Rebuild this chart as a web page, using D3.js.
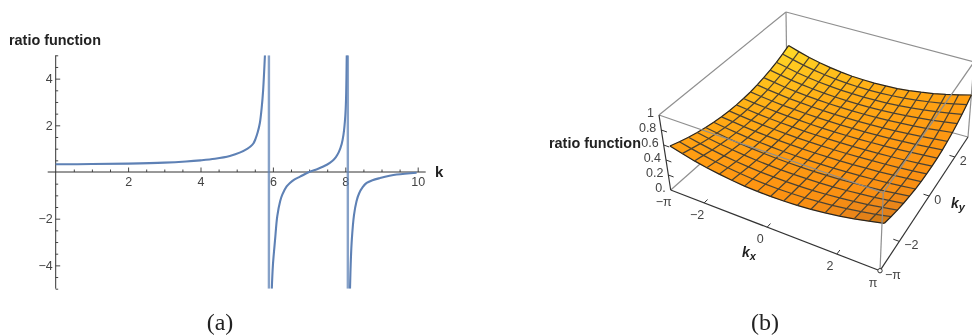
<!DOCTYPE html>
<html>
<head>
<meta charset="utf-8">
<script src="https://cdn.jsdelivr.net/npm/d3@7"></script>
<style>
  html, body { margin: 0; padding: 0; background: #fff; }
  svg { display: block; filter: blur(0.35px); }
  text { font-family: "Liberation Sans", sans-serif; }
  .tick text { font-size: 12.5px; fill: #444; }
</style>
</head>
<body>
<svg id="chart" width="972" height="336"></svg>
<script>
// panel (a): the curve, one list per branch
var branch1K = [0, 1, 2, 3, 3.6, 4, 4.4, 4.81, 5.1, 5.3, 5.38, 5.46, 5.52, 5.58, 5.64, 5.69, 5.73, 5.78];
var branch1V = [0.33, 0.34, 0.36, 0.4, 0.45, 0.5, 0.57, 0.69, 0.84, 1.0, 1.09, 1.22, 1.42, 1.7, 2.1, 2.75, 3.5, 5];
var branch2K = [5.97, 6.0, 6.06, 6.12, 6.2, 6.26, 6.38, 6.47, 6.6, 6.75, 7.0, 7.25, 7.49, 7.64, 7.74, 7.82, 7.9, 7.95, 8.0, 8.02, 8.04];
var branch2V = [-5, -4.0, -2.9, -1.9, -1.25, -0.97, -0.62, -0.47, -0.32, -0.2, 0, 0.14, 0.31, 0.47, 0.64, 0.85, 1.2, 1.6, 2.4, 3.1, 5];
var branch3K = [8.13, 8.15, 8.18, 8.24, 8.31, 8.38, 8.48, 8.59, 8.75, 8.96, 9.42, 9.97];
var branch3V = [-5, -3.9, -2.9, -1.85, -1.25, -0.92, -0.65, -0.47, -0.35, -0.26, -0.11, -0.03];
var asymptotes = [5.89, 8.07];
var xMajor = [2, 4, 6, 8, 10];
var xMinor = [0.5, 1, 1.5, 2.5, 3, 3.5, 4.5, 5, 5.5, 6.5, 7, 7.5, 8.5, 9, 9.5];
var yMajor = [-4, -2, 2, 4];
var yMinor = [-5, -4.5, -3.5, -3, -2.5, -1.5, -1, -0.5, 0.5, 1, 1.5, 2.5, 3, 3.5, 4.5, 5];

// panel (b): surface height at the 17 x 17 mesh crossings, rows along ky
var surface = [
  [.560,.516,.476,.444,.418,.397,.381,.374,.370,.374,.381,.397,.418,.444,.476,.516,.560],
  [.516,.479,.445,.417,.395,.377,.364,.357,.354,.357,.364,.377,.395,.417,.445,.479,.516],
  [.476,.445,.416,.392,.373,.358,.347,.342,.339,.342,.347,.358,.373,.392,.416,.445,.476],
  [.444,.417,.392,.373,.356,.343,.334,.329,.327,.329,.334,.343,.356,.373,.392,.417,.444],
  [.418,.395,.373,.356,.343,.332,.324,.320,.318,.320,.324,.332,.343,.356,.373,.395,.418],
  [.397,.377,.358,.343,.332,.322,.315,.312,.310,.312,.315,.322,.332,.343,.358,.377,.397],
  [.381,.364,.347,.334,.324,.315,.309,.306,.304,.306,.309,.315,.324,.334,.347,.364,.381],
  [.374,.357,.342,.329,.320,.312,.306,.303,.301,.303,.306,.312,.320,.329,.342,.357,.374],
  [.370,.354,.339,.327,.318,.310,.304,.301,.300,.301,.304,.310,.318,.327,.339,.354,.370],
  [.374,.357,.342,.329,.320,.312,.306,.303,.301,.303,.306,.312,.320,.329,.342,.357,.374],
  [.381,.364,.347,.334,.324,.315,.309,.306,.304,.306,.309,.315,.324,.334,.347,.364,.381],
  [.397,.377,.358,.343,.332,.322,.315,.312,.310,.312,.315,.322,.332,.343,.358,.377,.397],
  [.418,.395,.373,.356,.343,.332,.324,.320,.318,.320,.324,.332,.343,.356,.373,.395,.418],
  [.444,.417,.392,.373,.356,.343,.334,.329,.327,.329,.334,.343,.356,.373,.392,.417,.444],
  [.476,.445,.416,.392,.373,.358,.347,.342,.339,.342,.347,.358,.373,.392,.416,.445,.476],
  [.516,.479,.445,.417,.395,.377,.364,.357,.354,.357,.364,.377,.395,.417,.445,.479,.516],
  [.560,.516,.476,.444,.418,.397,.381,.374,.370,.374,.381,.397,.418,.444,.476,.516,.560]
];
var zTicks = [0, 0.2, 0.4, 0.6, 0.8, 1];
var zLabels = ["0.", "0.2", "0.4", "0.6", "0.8", "1"];
var kxTicks = [-Math.PI, -2, 0, 2, Math.PI];
var kxLabels = ["\u2212\u03c0", "\u22122", "0", "2", "\u03c0"];
var kyTicks = [-Math.PI, -2, 0, 2];
var kyLabels = ["\u2212\u03c0", "\u22122", "0", "2"];

var svg = d3.select("#chart");

// ---- panel (a)
var x = d3.scaleLinear().domain([0, 10]).range([55.7, 417.7]);
var y = d3.scaleLinear().domain([-5, 5]).range([288.7, 55.3]);

var left = svg.append("g");
left.append("clipPath").attr("id", "plotClip").append("rect")
  .attr("x", 50).attr("y", y(5)).attr("width", 380).attr("height", y(-5) - y(5));

function ticksX(values, size, labels) {
  var ax = d3.axisBottom(x).tickValues(values).tickSize(-size).tickPadding(size + 1);
  if (!labels) ax.tickFormat("");
  var g = left.append("g").attr("transform", "translate(0," + y(0) + ")").call(ax);
  g.select(".domain").remove();
  g.selectAll("line").attr("stroke", "#333").attr("stroke-width", 0.9);
  return g;
}
function ticksY(values, size, labels) {
  var ax = d3.axisLeft(y).tickValues(values).tickSize(-size).tickPadding(3);
  if (labels) ax.tickFormat(d3.format("d")); else ax.tickFormat("");
  var g = left.append("g").attr("transform", "translate(" + x(0) + ",0)").call(ax);
  g.select(".domain").remove();
  g.selectAll("line").attr("stroke", "#333").attr("stroke-width", 0.9);
  return g;
}
ticksX(xMinor, 2.5, false);
ticksX(xMajor, 4.5, true);
ticksY(yMinor, 2.5, false);
ticksY(yMajor, 4.5, true);

left.append("line").attr("x1", 47.7).attr("x2", 425.7).attr("y1", y(0)).attr("y2", y(0))
  .attr("stroke", "#333").attr("stroke-width", 1);
left.append("line").attr("x1", x(0)).attr("x2", x(0)).attr("y1", y(5)).attr("y2", y(-5))
  .attr("stroke", "#333").attr("stroke-width", 1);

var curve = d3.line().x(function(d) { return x(d[0]); }).y(function(d) { return y(d[1]); })
  .curve(d3.curveCatmullRom.alpha(0.5));
var plot = left.append("g").attr("clip-path", "url(#plotClip)");
plot.selectAll(".asym").data(asymptotes).enter().append("line")
  .attr("class", "asym")
  .attr("x1", function(d) { return x(d); }).attr("x2", function(d) { return x(d); })
  .attr("y1", y(5)).attr("y2", y(-5))
  .attr("stroke", "#5E81B5").attr("stroke-opacity", 0.75).attr("stroke-width", 2.4);
[[branch1K, branch1V], [branch2K, branch2V], [branch3K, branch3V]].forEach(function(b) {
  plot.append("path").datum(d3.zip(b[0], b[1]))
    .attr("d", curve).attr("fill", "none")
    .attr("stroke", "#5E81B5").attr("stroke-width", 2.1);
});

svg.append("text").attr("x", 9).attr("y", 45).attr("font-weight", "bold")
  .attr("font-size", 14.4).attr("fill", "#222").text("ratio function");
svg.append("text").attr("x", 435).attr("y", 177).attr("font-weight", "bold")
  .attr("font-size", 15).attr("fill", "#222").text("k");
svg.append("text").attr("x", 220).attr("y", 330).attr("text-anchor", "middle")
  .style("font-family", "'Liberation Serif', serif").attr("font-size", 24).attr("fill", "#222").text("(a)");

// ---- panel (b)
var kScale = d3.scaleLinear().domain([-Math.PI, Math.PI]).range([0, 1]);
var zScale = d3.scaleLinear().domain([0, 1]).range([0, 1]);

// maps the unit square on a four-cornered box face
function quadMap(p0, p1, p2, p3) {
  var dx1 = p1[0] - p2[0], dx2 = p3[0] - p2[0], sx = p0[0] - p1[0] + p2[0] - p3[0];
  var dy1 = p1[1] - p2[1], dy2 = p3[1] - p2[1], sy = p0[1] - p1[1] + p2[1] - p3[1];
  var det = dx1 * dy2 - dx2 * dy1;
  var g = (sx * dy2 - dx2 * sy) / det, h = (dx1 * sy - sx * dy1) / det;
  var a = p1[0] - p0[0] + g * p1[0], b = p3[0] - p0[0] + h * p3[0];
  var d = p1[1] - p0[1] + g * p1[1], e = p3[1] - p0[1] + h * p3[1];
  return function(u, v) {
    var w = g * u + h * v + 1;
    return [(a * u + b * v + p0[0]) / w, (d * u + e * v + p0[1]) / w];
  };
}
var floorMap = quadMap([670.7, 190], [880, 270.7], [968, 137], [787, 87]);
var roofMap = quadMap([659, 115], [883.3, 192.7], [974, 62], [786, 12]);

function project(kx, ky, z) {
  var u = kScale(kx), v = kScale(ky), t = zScale(z);
  var a = floorMap(u, v), b = roofMap(u, v);
  return [a[0] + (b[0] - a[0]) * t, a[1] + (b[1] - a[1]) * t];
}

var right = svg.append("g");
right.append("clipPath").attr("id", "pageClip").append("rect")
  .attr("x", 540).attr("y", 0).attr("width", 432).attr("height", 336);
var box = right.append("g").attr("clip-path", "url(#pageClip)");

var P = Math.PI;
function edge(layer, a, b, color, width) {
  var p = project(a[0], a[1], a[2]), q = project(b[0], b[1], b[2]);
  layer.append("line").attr("x1", p[0]).attr("y1", p[1]).attr("x2", q[0]).attr("y2", q[1])
    .attr("stroke", color).attr("stroke-width", width);
}

// box edges behind the surface
var boxGrey = "#8f8f8f";
edge(box, [-P, -P, 0], [-P, P, 0], boxGrey, 1.2);
edge(box, [-P, P, 0], [P, P, 0], boxGrey, 1.2);
edge(box, [-P, P, 0], [-P, P, 1], boxGrey, 1.2);
edge(box, [P, P, 0], [P, P, 1], boxGrey, 1.2);
edge(box, [-P, -P, 1], [-P, P, 1], boxGrey, 1.2);
edge(box, [-P, P, 1], [P, P, 1], boxGrey, 1.2);

// the surface, a little inside the box as in the picture
var meshN = surface.length - 1;
var meshX = d3.scaleLinear().domain([0, meshN]).range([-P + 0.08, P]);
var meshY = d3.scaleLinear().domain([0, meshN]).range([-P + 0.14, P]);
var cellColor = d3.scaleLinear()
  .domain([-1, -0.75, -0.4, 0.1, 0.6, 0.85, 1])
  .range(["#ffdc28", "#ffc21c", "#ffab14", "#ff9c12", "#fb9012", "#e8841a", "#c8740f"]);

function corner(i, j) { return project(meshX(i), meshY(j), surface[j][i]); }

var cells = [];
d3.range(meshN).forEach(function(j) {
  d3.range(meshN).forEach(function(i) { cells.push([i, j]); });
});
var quad = d3.line();
box.selectAll(".cell").data(cells).enter().append("path")
  .attr("class", "cell")
  .attr("d", function(c) {
    var i = c[0], j = c[1];
    return quad([corner(i, j), corner(i + 1, j), corner(i + 1, j + 1), corner(i, j + 1)]) + "Z";
  })
  .attr("fill", function(c) { return cellColor((c[0] - c[1]) / meshN); })
  .attr("stroke", function(c) { return cellColor((c[0] - c[1]) / meshN); })
  .attr("stroke-width", 0.4);

d3.range(meshN + 1).forEach(function(n) {
  var outer = n === 0 || n === meshN;
  var along = d3.range(meshN + 1);
  box.append("path").attr("d", quad(along.map(function(i) { return corner(i, n); })))
    .attr("fill", "none").attr("stroke", outer ? "#2a2620" : "#4a4234").attr("stroke-width", 1.25);
  box.append("path").attr("d", quad(along.map(function(j) { return corner(n, j); })))
    .attr("fill", "none").attr("stroke", outer ? "#2a2620" : "#4a4234").attr("stroke-width", 1.25);
});

// box edges in front of the surface
edge(box, [-P, -P, 1], [P, -P, 1], boxGrey, 1.2);
edge(box, [P, -P, 1], [P, P, 1], boxGrey, 1.2);
edge(box, [P, -P, 0], [P, -P, 1], boxGrey, 1.2);

// axes
var axisInk = "#333";
edge(box, [-P, -P, 0], [-P, -P, 1], axisInk, 1.2);
edge(box, [-P, -P, 0], [P, -P, 0], axisInk, 1.2);
edge(box, [P, -P, 0], [P, P, 0], axisInk, 1.2);

function label(pos, dx, dy, text, anchor) {
  box.append("text").attr("x", pos[0] + dx).attr("y", pos[1] + dy)
    .attr("text-anchor", anchor).attr("font-size", 12.5).attr("fill", "#444").text(text);
}

zTicks.forEach(function(z, i) {
  if (z > 0 && z < 1) edge(box, [-P, -P, z], [-P + 0.18, -P, z], axisInk, 1);
  label(project(-P, -P, z), -5, 2, zLabels[i], "end");
});
kxTicks.forEach(function(k, i) {
  if (Math.abs(k) < 3) edge(box, [k, -P, 0], [k, -P + 0.16, 0], axisInk, 1);
  label(project(k, -P, 0), -7, 16, kxLabels[i], "middle");
});
kyTicks.forEach(function(k, i) {
  if (Math.abs(k) < 3) edge(box, [P, k, 0], [P - 0.16, k, 0], axisInk, 1);
  label(project(P, k, 0), 5, 8, kyLabels[i], "start");
});

var corner0 = project(P, -P, 0);
box.append("circle").attr("cx", corner0[0]).attr("cy", corner0[1]).attr("r", 2.2)
  .attr("fill", "#fff").attr("stroke", "#333").attr("stroke-width", 1);

svg.append("text").attr("x", 549).attr("y", 148).attr("font-weight", "bold")
  .attr("font-size", 14.4).attr("fill", "#222").text("ratio function");

function subLabel(xp, yp, sub) {
  var t = svg.append("text").attr("x", xp).attr("y", yp).attr("font-weight", "bold")
    .attr("font-style", "italic").attr("font-size", 14).attr("fill", "#222");
  t.append("tspan").text("k");
  t.append("tspan").attr("dy", 3).attr("font-size", 11).text(sub);
}
subLabel(742, 257, "x");
subLabel(951, 208, "y");

svg.append("text").attr("x", 765).attr("y", 330).attr("text-anchor", "middle")
  .style("font-family", "'Liberation Serif', serif").attr("font-size", 24).attr("fill", "#222").text("(b)");
</script>
</body>
</html>
